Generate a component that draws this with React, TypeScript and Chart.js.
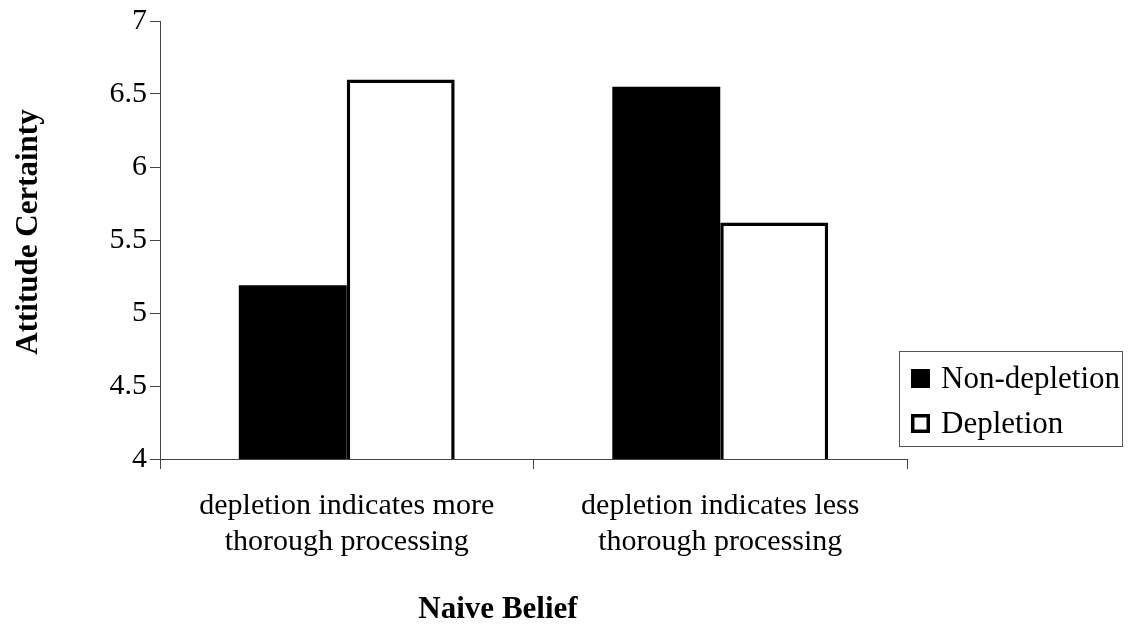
import React, { useEffect, useRef } from "react";
import { Chart, registerables } from "chart.js";
Chart.register(...registerables);

const categories = [
  ["depletion indicates more", "thorough processing"],
  ["depletion indicates less", "thorough processing"],
];
const seriesNames = ["Non-depletion", "Depletion"];
const nonDepletion = [5.19, 6.55];
const depletion = [6.6, 5.62];
const yMin = 4;
const yMax = 7;
const yStep = 0.5;
const yTitle = "Attitude Certainty";
const xTitle = "Naive Belief";

const FONT = '"Liberation Serif", "Times New Roman", serif';
const TARGET = { left: 160, top: 21, right: 907, bottom: 459 };

const overlay = {
  id: "overlay",
  afterDraw(chart: any) {
    const ctx = chart.ctx as CanvasRenderingContext2D;
    ctx.save();
    ctx.fillStyle = "#000";
    // y title
    ctx.font = `bold 31px ${FONT}`;
    ctx.textAlign = "center";
    ctx.textBaseline = "middle";
    ctx.save();
    ctx.translate(29, 232);
    ctx.rotate(-Math.PI / 2);
    ctx.fillText(yTitle, 0, 0);
    ctx.restore();
    // x title
    ctx.textBaseline = "alphabetic";
    ctx.fillText(xTitle, 498, 618);
    // legend
    const bx = 899, by = 351, bw = 223, bh = 95;
    ctx.fillStyle = "#fff";
    ctx.fillRect(bx, by, bw, bh);
    ctx.strokeStyle = "#555";
    ctx.lineWidth = 1;
    ctx.strokeRect(bx + 0.5, by + 0.5, bw, bh);
    ctx.font = `31px ${FONT}`;
    ctx.textAlign = "left";
    ctx.fillStyle = "#000";
    // item 1
    ctx.fillRect(911, 369, 19, 19);
    ctx.fillText(seriesNames[0], 941, 388);
    // item 2
    ctx.fillStyle = "#fff";
    ctx.fillRect(911, 414, 19, 19);
    ctx.strokeStyle = "#000";
    ctx.lineWidth = 3.5;
    ctx.strokeRect(912.75, 415.75, 15.5, 15.5);
    ctx.fillStyle = "#000";
    ctx.fillText(seriesNames[1], 941, 433);
    ctx.restore();
  },
};

export default function App() {
  const ref = useRef<HTMLCanvasElement | null>(null);
  useEffect(() => {
    document.body.style.margin = "0";
    const canvas = ref.current!;
    Chart.defaults.font.family = FONT;
    const pad = { left: 0, top: 0, right: 200, bottom: 40 };
    const chart = new Chart(canvas, {
      type: "bar",
      data: {
        labels: categories,
        datasets: [
          {
            label: seriesNames[0],
            data: nonDepletion,
            backgroundColor: "#000",
            borderColor: "#000",
            borderWidth: 0,
            categoryPercentage: 0.578,
            barPercentage: 1,
          },
          {
            label: seriesNames[1],
            data: depletion,
            backgroundColor: "#fff",
            borderColor: "#000",
            borderWidth: 3.5,
            borderSkipped: false,
            categoryPercentage: 0.578,
            barPercentage: 1,
          },
        ],
      },
      options: {
        responsive: false,
        animation: false,
        devicePixelRatio: 1,
        layout: { padding: { ...pad } },
        plugins: {
          legend: { display: false },
          tooltip: { enabled: false },
          title: { display: false },
        },
        scales: {
          x: {
            grid: {
              offset: true,
              drawOnChartArea: false,
              drawTicks: true,
              tickLength: 10,
              color: "#444",
            },
            border: { color: "#444", width: 1 },
            ticks: {
              color: "#000",
              font: { size: 30, lineHeight: 1.17 },
              padding: 20,
              maxRotation: 0,
              autoSkip: false,
            },
          },
          y: {
            min: yMin,
            max: yMax,
            grid: {
              drawOnChartArea: false,
              drawTicks: true,
              tickLength: 10,
              color: "#444",
            },
            border: { color: "#444", width: 1 },
            ticks: {
              stepSize: yStep,
              color: "#000",
              font: { size: 30 },
              padding: 3,
              callback: (v: any) => String(Number(v)),
            },
          },
        },
      },
      plugins: [overlay],
    });
    for (let i = 0; i < 4; i++) {
      const a = chart.chartArea;
      pad.left += TARGET.left - a.left;
      pad.top += TARGET.top - a.top;
      pad.right += a.right - TARGET.right;
      pad.bottom += a.bottom - TARGET.bottom;
      (chart.options as any).layout.padding = { ...pad };
      chart.update();
    }
    return () => chart.destroy();
  }, []);
  return (
    <div style={{ position: "absolute", left: 0, top: 0, width: 1129, height: 626, background: "#fff" }}>
      <canvas ref={ref} width={1129} height={626} />
    </div>
  );
}
